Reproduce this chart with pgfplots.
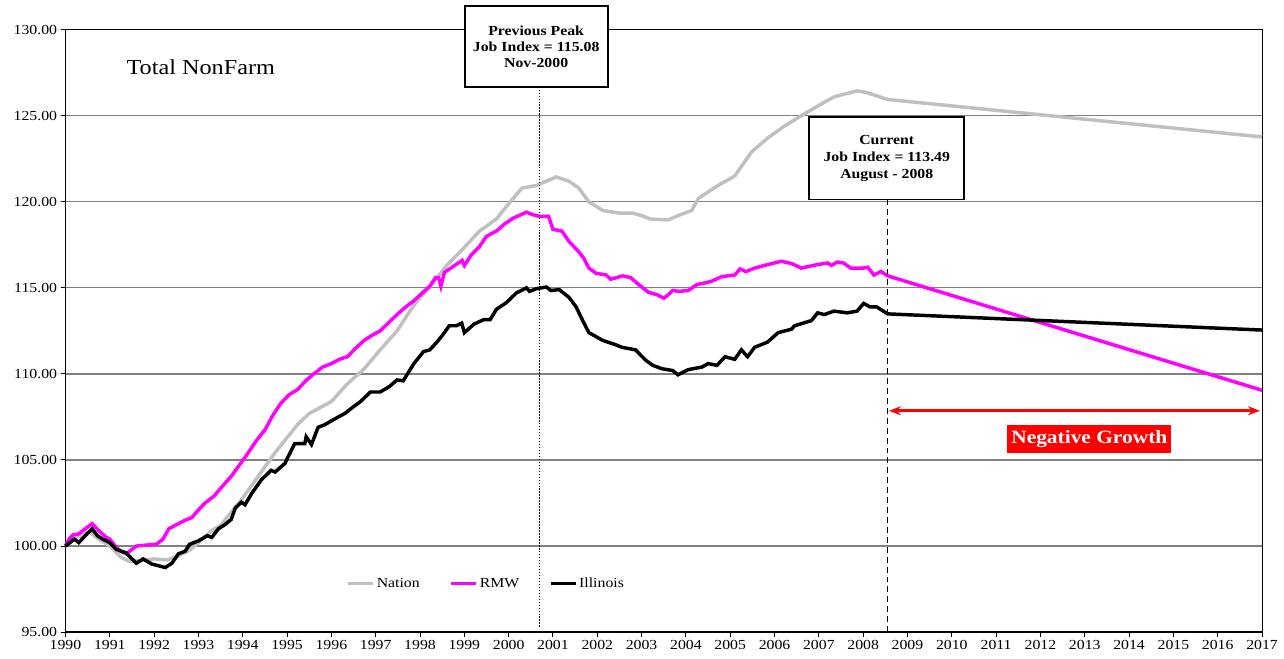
\documentclass[border=0pt]{standalone}
\usepackage{fontspec}
\setmainfont[FakeStretch=1.14]{Liberation Serif}
\usepackage{pgfplots}
\pgfplotsset{compat=1.18}
\usetikzlibrary{arrows.meta}
\definecolor{natgray}{RGB}{192,192,192}
\definecolor{rmw}{RGB}{255,0,255}
\begin{document}
\begin{tikzpicture}
\begin{axis}[
 scale only axis, width=1206bp, height=607bp,
 xmin=1990, xmax=2017, ymin=95, ymax=130,
 xtick={1990,...,2017}, ytick={95,100,...,130},
 xtick pos=left, ytick pos=left,
 ymajorgrids, grid style={draw=gray, line width=1.2bp},
 axis line style={black, line width=1.2bp},
 tick align=outside, major tick length=5bp, tick style={black, line width=1bp},
 tick label style={font=\fontsize{14}{16}\selectfont},
 /pgf/number format/assume math mode=true,
 xticklabel style={/pgf/number format/1000 sep={}},
 yticklabel style={/pgf/number format/.cd, fixed, fixed zerofill, precision=2},
 clip=false,
 legend columns=3,
 legend style={draw=none, fill=none, at={(0.3516,0.0807)}, anchor=center,
   font=\fontsize{14}{17}\selectfont,
   /tikz/every even column/.append style={column sep=28bp}},
 legend image code/.code={\draw[#1] (0bp,0bp) -- (25bp,0bp);},
]
\addplot[natgray, line width=3.5bp] coordinates {
(1990.00,100.0) (1990.15,100.4) (1990.35,100.6) (1990.55,100.8) (1990.75,100.4)
(1991.00,100.0) (1991.25,99.35) (1991.45,99.1) (1991.70,99.15) (1992.00,99.25)
(1992.30,99.2) (1992.55,99.45) (1992.80,99.75) (1993.00,100.2) (1993.30,100.9)
(1993.50,101.2) (1993.75,102.0) (1994.00,102.8) (1994.25,103.7) (1994.50,104.6)
(1994.75,105.5) (1995.00,106.3) (1995.25,107.1) (1995.50,107.7) (1996.00,108.4)
(1996.35,109.4) (1996.74,110.3) (1997.10,111.4) (1997.48,112.5) (1997.86,114.0)
(1998.20,115.0) (1998.60,116.3) (1998.98,117.3) (1999.34,118.3) (1999.72,119.0)
(2000.10,120.2) (2000.30,120.8) (2000.62,120.95) (2000.85,121.2) (2001.07,121.45)
(2001.36,121.2) (2001.58,120.8) (2001.81,120.0) (2002.12,119.5) (2002.48,119.35)
(2002.79,119.35) (2003.00,119.2) (2003.20,119.0) (2003.60,118.95) (2003.82,119.2)
(2004.13,119.5) (2004.28,120.2) (2004.72,120.95) (2005.10,121.5) (2005.48,122.9)
(2005.84,123.7) (2006.22,124.4) (2006.60,125.0) (2006.96,125.55) (2007.34,126.1)
(2007.86,126.45) (2008.08,126.35) (2008.55,125.95) (2017.00,123.77)
};
\addlegendentry{Nation}
\addplot[rmw, line width=3.5bp] coordinates {
(1990.00,100.0) (1990.08,100.4) (1990.17,100.65) (1990.30,100.7) (1990.47,101.05)
(1990.60,101.3) (1990.75,100.9) (1990.92,100.5) (1991.00,100.4) (1991.15,99.9)
(1991.25,99.7) (1991.37,99.55) (1991.50,99.8) (1991.60,100.0) (1991.80,100.05)
(1992.05,100.1) (1992.20,100.4) (1992.33,101.0) (1992.55,101.3) (1992.70,101.5)
(1992.85,101.65) (1993.00,102.1) (1993.15,102.5) (1993.35,102.9) (1993.55,103.5)
(1993.74,104.05) (1993.95,104.8) (1994.12,105.4) (1994.30,106.1) (1994.50,106.75)
(1994.68,107.6) (1994.86,108.3) (1995.05,108.8) (1995.24,109.1) (1995.42,109.6)
(1995.60,110.0) (1995.80,110.4) (1996.00,110.6) (1996.18,110.85) (1996.36,111.0)
(1996.55,111.5) (1996.74,111.95) (1996.92,112.25) (1997.10,112.5) (1997.30,113.0)
(1997.48,113.45) (1997.68,113.9) (1997.86,114.25) (1998.05,114.7) (1998.22,115.1)
(1998.35,115.6) (1998.42,115.6) (1998.47,115.1) (1998.55,115.9) (1998.78,116.3)
(1998.95,116.6) (1999.00,116.3) (1999.15,116.9) (1999.34,117.4) (1999.50,118.0)
(1999.72,118.3) (1999.90,118.7) (2000.10,119.05) (2000.40,119.4) (2000.55,119.25)
(2000.70,119.15) (2000.90,119.15) (2001.00,118.4) (2001.20,118.3) (2001.36,117.7)
(2001.58,117.1) (2001.70,116.7) (2001.81,116.15) (2001.97,115.85) (2002.20,115.75)
(2002.30,115.5) (2002.57,115.7) (2002.75,115.6) (2002.93,115.2) (2003.15,114.75)
(2003.35,114.6) (2003.50,114.4) (2003.60,114.6) (2003.70,114.85) (2003.85,114.8)
(2004.05,114.85) (2004.25,115.2) (2004.45,115.3) (2004.59,115.4) (2004.80,115.65)
(2005.10,115.75) (2005.22,116.1) (2005.35,115.95) (2005.55,116.15) (2005.84,116.35)
(2006.15,116.55) (2006.40,116.4) (2006.60,116.15) (2006.96,116.35) (2007.20,116.45)
(2007.28,116.3) (2007.41,116.5) (2007.55,116.45) (2007.72,116.15) (2008.00,116.15)
(2008.10,116.2) (2008.24,115.75) (2008.40,115.95) (2008.55,115.7) (2017.00,109.05)
};
\addlegendentry{RMW}
\addplot[black, line width=3.5bp] coordinates {
(1990.00,100.0) (1990.20,100.4) (1990.30,100.2) (1990.50,100.75) (1990.60,101.0)
(1990.72,100.6) (1990.84,100.4) (1991.00,100.2) (1991.15,99.8) (1991.37,99.6)
(1991.48,99.3) (1991.60,99.0) (1991.75,99.25) (1991.95,98.95) (1992.18,98.8)
(1992.25,98.75) (1992.40,99.0) (1992.55,99.55) (1992.70,99.7) (1992.80,100.1)
(1993.00,100.3) (1993.20,100.6) (1993.30,100.5) (1993.45,101.0) (1993.60,101.25)
(1993.74,101.55) (1993.83,102.2) (1993.97,102.55) (1994.05,102.4) (1994.20,103.05)
(1994.42,103.85) (1994.64,104.4) (1994.73,104.3) (1994.95,104.8) (1995.17,105.95)
(1995.40,105.95) (1995.43,106.35) (1995.55,105.9) (1995.70,106.9) (1995.85,107.05)
(1996.05,107.35) (1996.30,107.7) (1996.50,108.1) (1996.66,108.4) (1996.88,108.95)
(1997.10,108.95) (1997.30,109.25) (1997.48,109.65) (1997.62,109.6) (1997.86,110.6)
(1998.08,111.3) (1998.22,111.4) (1998.38,111.85) (1998.52,112.3) (1998.66,112.8)
(1998.82,112.8) (1998.94,112.95) (1999.00,112.4) (1999.22,112.9) (1999.43,113.15)
(1999.58,113.15) (1999.72,113.75) (1999.95,114.15) (2000.17,114.7) (2000.40,115.0)
(2000.47,114.8) (2000.62,114.95) (2000.85,115.05) (2000.95,114.85) (2001.14,114.9)
(2001.36,114.45) (2001.52,113.9) (2001.67,113.1) (2001.81,112.4) (2002.12,111.95)
(2002.41,111.7) (2002.55,111.55) (2002.86,111.4) (2003.09,110.8) (2003.25,110.5)
(2003.46,110.3) (2003.70,110.2) (2003.82,109.95) (2004.05,110.25) (2004.36,110.4)
(2004.50,110.6) (2004.70,110.5) (2004.88,111.0) (2005.10,110.85) (2005.25,111.4)
(2005.39,111.0) (2005.55,111.55) (2005.84,111.85) (2006.08,112.4) (2006.38,112.6)
(2006.45,112.8) (2006.83,113.1) (2006.97,113.55) (2007.12,113.45) (2007.34,113.65)
(2007.64,113.55) (2007.86,113.65) (2008.01,114.1) (2008.15,113.9) (2008.30,113.9)
(2008.55,113.49) (2017.00,112.55)
};
\addlegendentry{Illinois}
\draw[black, line width=1.3bp, dash pattern=on 1.5bp off 1.5bp] (axis cs:2000.69,95.3) -- (axis cs:2000.69,128);
\draw[black, line width=1.5bp, dash pattern=on 6bp off 4bp] (axis cs:2008.55,95) -- (axis cs:2008.55,122);
\node[draw=black, line width=1.8bp, fill=white, minimum width=144bp, minimum height=82bp,
  align=center, inner sep=0pt, font=\bfseries\fontsize{14}{16.5}\selectfont]
  at (axis cs:2000.62,129.02) {Previous Peak\\Job Index = 115.08\\Nov-2000};
\node[draw=black, line width=1.8bp, fill=white, minimum width=156bp, minimum height=83bp,
  align=center, inner sep=0pt, font=\bfseries\fontsize{14}{17}\selectfont]
  at (axis cs:2008.53,122.53) {Current\\Job Index = 113.49\\August - 2008};
\draw[{Stealth[length=12bp,width=9bp]}-{Stealth[length=12bp,width=9bp]}, red, line width=3bp]
  (axis cs:2008.58,107.86) -- (axis cs:2016.95,107.86);
\node[fill=red, text=white, font=\bfseries\fontsize{19}{23}\selectfont, inner xsep=4bp,
  minimum height=28bp] at (axis cs:2013.1,106.24) {Negative Growth};
\node[anchor=west, font=\fontsize{21.5}{26}\selectfont] at (axis cs:1991.3,127.8) {Total NonFarm};
\end{axis}
\pgfresetboundingbox
\useasboundingbox (-66bp,-27bp) rectangle (1228bp,637bp);
\end{tikzpicture}
\end{document}
